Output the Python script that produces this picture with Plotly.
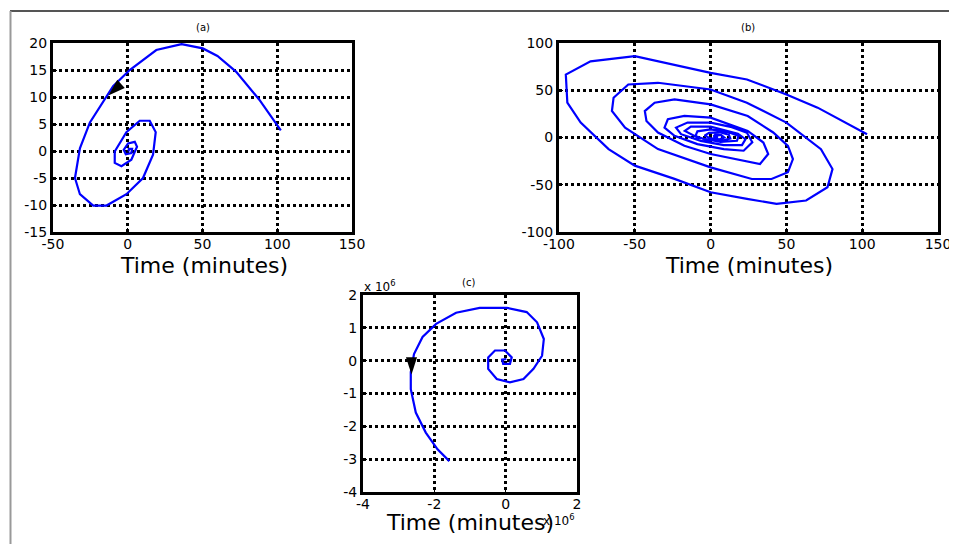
import plotly.graph_objects as go

# ---------------- data ----------------
# panel (a)
a_x = [102.4, 88, 72.4, 60, 50.2, 36, 19.1, 1.3, -9.8, -15.3, -25.3, -32, -35.3, -32, -23.1,
       -14.2, -0.9, 10.2, 16.9, 18.7, 14.7, 8, -0.9, -8.7, -8.7, -4.2, 2.4, 6.2, 4.7, 0.2,
       -2.7, -1.3, 2.4, 2.9, 0.7, 0.7]
a_y = [3.8, 9.5, 14.7, 17.6, 19.0, 19.8, 18.7, 15.0, 12.0, 9.6, 5.3, 0.5, -5.0, -8.0, -10.1,
       -10.1, -8.0, -5.0, -0.7, 3.5, 5.6, 5.6, 3.5, -0.1, -2.2, -2.8, -1.6, 0.8, 1.7, 1.4,
       0.2, -0.6, -0.4, 0.4, 0.4, -0.1]
a_arrow_x = [-13.0]
a_arrow_y = [10.3]

# panel (b)
b_x = [103.2, 70.6, 50, 24, 0, -25, -50, -79.2, -95.5, -94.5, -85.7, -67.3, -50, -23.8, 0,
       24, 43.5, 63, 77.1, 80.4, 72.8, 50, 23.9, 0, -34.7, -54.3, -64, -65.1, -56.4, -34.7,
       0, 27.2, 40.2, 51, 54.3, 51, 41.3, 24.5, 0, -23.8, -36.9, -43.4, -42.3, -34.7, -17.3,
       0, 21.8, 32.6, 38, 34.8, 24.5, 0, -17.3, -28.2, -30.4, -23.8, -8.7, 8.7, 21.8, 27.5,
       24, 14, 0, -15.2, -22.8, -19.5, -6.5, 8.7, 20.7, 23, 18, 8, 0, -13, -17, -8.7,
       6.5, 17.4, 18.5, 11, 0, -8.7, -10, -3, 7, 13, 12, 6, -1, -4, 0, 6, 9, 7, 3, 2, 5]
b_y = [3.5, 31.6, 45.6, 61.4, 68.4, 77, 86, 80.6, 66.6, 36.8, 15.8, -12.3, -29.8, -43.8, -57.9,
       -65, -70.2, -66.7, -52.6, -33.4, -12.3, 15.8, 36.8, 50.8, 57.9, 56.1, 42.1, 28, 10.5, -12.3,
       -31.6, -43.9, -43.9, -36.8, -22.8, -8.8, 5.3, 22.7, 35, 40.3, 36.8, 28, 17.5, 5.3, -8.8,
       -17.5, -24.6, -28, -17.5, -5.3, 7, 21, 22.8, 19.3, 10.5, 1.7, -7, -12.3, -14, -5,
       5, 11, 15.8, 15.8, 10.5, 3.5, -3.5, -8.1, -8.1, -1.8, 4, 8, 11.6, 11.6, 7, 0,
       -4.6, -3.5, 1.7, 6, 8.5, 6.5, 1.5, -2.5, -3.5, -1, 3, 5.5, 5, 2, -1, -2, 0, 2.5, 3, 1, 0.5]

# panel (c)  (values in units of 10^6)
c_x = [-1.58, -1.91, -2.24, -2.52, -2.66, -2.66, -2.57, -2.33, -1.95, -1.39, -0.73, 0.03,
       0.59, 0.88, 1.07, 1.02, 0.78, 0.5, 0.12, -0.25, -0.49, -0.49, -0.3, -0.02, 0.17,
       0.12, -0.07, -0.1, 0.02]
c_y = [-3.06, -2.7, -2.19, -1.58, -0.87, -0.35, 0.2, 0.72, 1.12, 1.46, 1.61, 1.61,
       1.48, 1.17, 0.66, 0.15, -0.25, -0.56, -0.66, -0.56, -0.25, 0.1, 0.31, 0.31, 0.1,
       -0.1, -0.1, 0.03, 0.05]
c_arrow_x = [-2.64]
c_arrow_y = [-0.42]

a_xticks = [-50, 0, 50, 100, 150]
a_yticks = [-15, -10, -5, 0, 5, 10, 15, 20]
b_xticks = [-100, -50, 0, 50, 100, 150]
b_yticks = [-100, -50, 0, 50, 100]
c_xticks = [-4, -2, 0, 2]
c_yticks = [-4, -3, -2, -1, 0, 1, 2]

titles = ["(a)", "(b)", "(c)"]
xlabel = "Time (minutes)"
exponent = "x 10<sup>6</sup>"

# ---------------- figure ----------------
W, H = 957, 544
OFF = 8  # page body margin offset
FONT = "DejaVu Sans"
BLUE = "#0000ff"

fig = go.Figure()

def px_x(v):
    return (v - OFF) / W

def px_y(v):
    return 1 - (v - OFF) / H

def lab(vals):
    return [str(v) for v in vals]

panels = [
    ("", a_x, a_y, (53, 352), (43, 232), [-50, 150], [-15, 20], a_xticks, a_yticks),
    ("2", b_x, b_y, (559, 938), (43, 232), [-100, 150], [-100, 100], b_xticks, b_yticks),
    ("3", c_x, c_y, (363, 577), (295, 492), [-4, 2], [-4, 2], c_xticks, c_yticks),
]

for suf, xs, ys, xd, yd, xr, yr, xt, yt in panels:
    fig.add_trace(go.Scatter(x=xs, y=ys, mode="lines",
                             line=dict(color=BLUE, width=2.2),
                             xaxis="x" + suf, yaxis="y" + suf, showlegend=False,
                             hoverinfo="skip"))
    axcommon = dict(showgrid=True, gridcolor="black", griddash="dot", gridwidth=2.5,
                    zeroline=False, showline=True, linecolor="black", linewidth=3,
                    mirror=True, ticks="inside", ticklen=4, tickcolor="black",
                    tickfont=dict(family=FONT, size=14, color="black"),
                    automargin=False, fixedrange=True)
    fig.update_layout(**{
        "xaxis" + suf: dict(domain=[px_x(xd[0]), px_x(xd[1])], range=xr,
                            tickvals=xt, ticktext=lab(xt), ticklabelstandoff=-3,
                            anchor="y" + suf, **axcommon),
        "yaxis" + suf: dict(domain=[px_y(yd[1]), px_y(yd[0])], range=yr,
                            tickvals=yt, ticktext=lab(yt), anchor="x" + suf, **axcommon),
    })

# arrowheads
fig.add_trace(go.Scatter(x=a_arrow_x, y=a_arrow_y, mode="markers",
                         marker=dict(symbol="arrow", size=18, color="black", angle=228),
                         xaxis="x", yaxis="y", showlegend=False, hoverinfo="skip"))
fig.add_trace(go.Scatter(x=c_arrow_x, y=c_arrow_y, mode="markers",
                         marker=dict(symbol="arrow", size=18, color="black", angle=180),
                         xaxis="x3", yaxis="y3", showlegend=False, hoverinfo="skip"))

ann = []
for t, (cx, cy) in zip(titles, [(203, 28), (748, 28), (468, 282)]):
    ann.append(dict(text=t, x=px_x(cx), y=px_y(cy), xref="paper", yref="paper",
                    showarrow=False, xanchor="center", yanchor="middle",
                    font=dict(family=FONT, size=10, color="black")))
for cx, cy in [(204, 265), (749, 265), (470, 522)]:
    ann.append(dict(text=xlabel, x=px_x(cx), y=px_y(cy), xref="paper", yref="paper",
                    showarrow=False, xanchor="center", yanchor="middle",
                    font=dict(family=FONT, size=22, color="black")))
ann.append(dict(text=exponent, x=px_x(362), y=px_y(286), xref="paper", yref="paper",
                showarrow=False, xanchor="left", yanchor="middle",
                font=dict(family=FONT, size=12, color="black")))
ann.append(dict(text=exponent, x=px_x(577), y=px_y(520), xref="paper", yref="paper",
                showarrow=False, xanchor="right", yanchor="middle",
                font=dict(family=FONT, size=12, color="black")))

shapes = [
    dict(type="line", xref="paper", yref="paper", x0=px_x(10), x1=1.0, y0=px_y(11), y1=px_y(11),
         line=dict(color="#555555", width=2)),
    dict(type="line", xref="paper", yref="paper", x0=px_x(10.5), x1=px_x(10.5), y0=px_y(11), y1=0,
         line=dict(color="#999999", width=2)),
]

fig.update_layout(width=W, height=H, autosize=False,
                  margin=dict(l=0, r=0, t=0, b=0, pad=0, autoexpand=False),
                  paper_bgcolor="white", plot_bgcolor="white",
                  annotations=ann, shapes=shapes,
                  font=dict(family=FONT, color="black"))

fig.write_html("out.html")
